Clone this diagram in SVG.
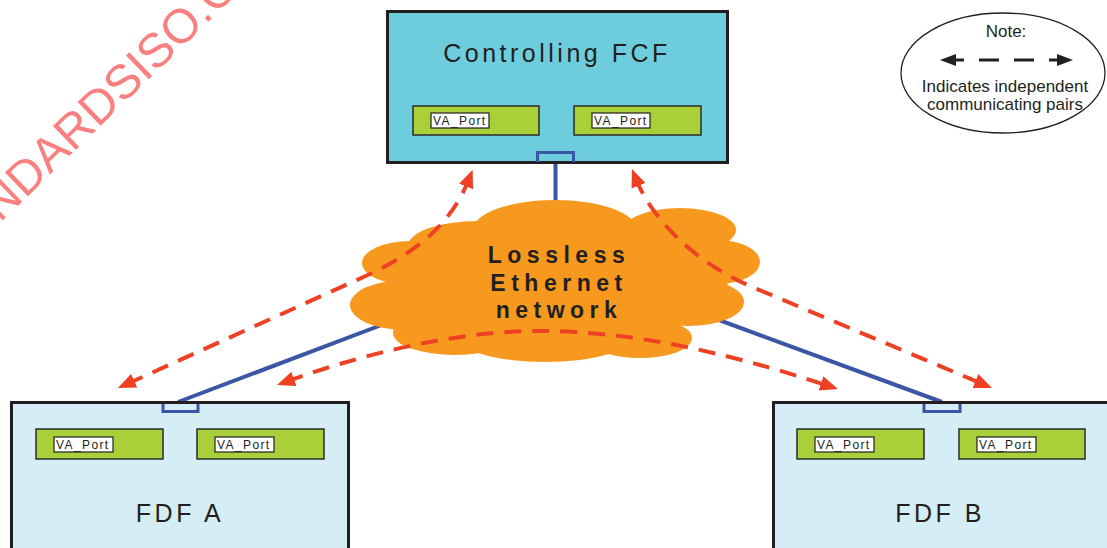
<svg xmlns="http://www.w3.org/2000/svg" width="1107" height="548" viewBox="0 0 1107 548">
<style>
.box{stroke:#231f20;stroke-width:3}
.fcf{fill:#6ecddd}
.fdf{fill:#d5eef5}
.green{fill:#a9cf39;stroke:#2b2b2b;stroke-width:1.5}
.lbl{fill:#ffffff;stroke:#231f20;stroke-width:1.2}
.lt{font-family:"Liberation Sans",Arial,sans-serif;font-size:12px;letter-spacing:1.4px;fill:#231f20}
.title{font-family:"Liberation Sans",Arial,sans-serif;font-size:25px;letter-spacing:3.5px;fill:#231f20;text-anchor:middle}
.port{fill:none;stroke:#3a56a4;stroke-width:3}
.link{fill:none;stroke:#3a56a4;stroke-width:4}
.cloud{fill:#f7991e}
.ctext{font-family:"Liberation Sans",Arial,sans-serif;font-weight:bold;font-size:23px;letter-spacing:5.5px;fill:#231f20;text-anchor:middle}
.dash{fill:none;stroke:#ee4124;stroke-width:4;stroke-dasharray:17 11;marker-start:url(#ah);marker-end:url(#ah)}
.note{font-family:"Liberation Sans",Arial,sans-serif;font-size:17px;fill:#231f20;text-anchor:middle}
</style>
<defs>
<marker id="ah" markerUnits="userSpaceOnUse" markerWidth="20" markerHeight="16" refX="8" refY="7.5" orient="auto-start-reverse">
<path d="M0,0 L18,7.5 L0,15 z" fill="#ee4124"/>
</marker>
</defs>

<text x="0" y="0" transform="translate(0,223) rotate(-44)" font-family="Liberation Sans,Arial,sans-serif" font-size="48" fill="#fa8080">NDARDSISO.C</text>

<g id="connectors-solid">
<line class="link" x1="555.5" y1="164" x2="555.5" y2="215"/>
<line class="link" x1="178" y1="402" x2="400" y2="318"/>
<line class="link" x1="942" y1="402" x2="700" y2="313"/>
</g>

<g id="cloud">
<ellipse class="cloud" cx="560" cy="275" rx="170" ry="55"/>
<ellipse class="cloud" cx="555" cy="230" rx="82" ry="30"/>
<ellipse class="cloud" cx="478" cy="246" rx="70" ry="25"/>
<ellipse class="cloud" cx="410" cy="263" rx="48" ry="22"/>
<ellipse class="cloud" cx="405" cy="305" rx="55" ry="25"/>
<ellipse class="cloud" cx="455" cy="333" rx="62" ry="22"/>
<ellipse class="cloud" cx="545" cy="338" rx="85" ry="24"/>
<ellipse class="cloud" cx="640" cy="338" rx="52" ry="20"/>
<ellipse class="cloud" cx="688" cy="302" rx="56" ry="24"/>
<ellipse class="cloud" cx="718" cy="262" rx="42" ry="22"/>
<ellipse class="cloud" cx="680" cy="230" rx="56" ry="22"/>
<text class="ctext" x="559" y="263">Lossless</text>
<text class="ctext" x="559" y="291">Ethernet</text>
<text class="ctext" x="559" y="318">network</text>
</g>

<g id="fcf">
<rect class="box fcf" x="387.5" y="11.5" width="340" height="151"/>
<text class="title" x="557" y="62">Controlling FCF</text>
<rect class="green" x="413" y="106" width="126" height="29"/>
<rect class="lbl" x="431" y="113" width="58" height="15"/>
<text class="lt" x="433" y="124.5">VA_Port</text>
<rect class="green" x="574" y="106" width="127" height="29"/>
<rect class="lbl" x="592" y="113" width="58" height="15"/>
<text class="lt" x="594" y="124.5">VA_Port</text>
<path class="port" d="M537.5,162 V152.5 H573.5 V162"/>
</g>

<g id="fdf-a">
<rect class="box fdf" x="11.5" y="402.5" width="337" height="160"/>
<rect class="green" x="36" y="429" width="127" height="30"/>
<rect class="lbl" x="54" y="437" width="59" height="15"/>
<text class="lt" x="56" y="448.5">VA_Port</text>
<rect class="green" x="197" y="429" width="127" height="30"/>
<rect class="lbl" x="215" y="437" width="59" height="15"/>
<text class="lt" x="217" y="448.5">VA_Port</text>
<text class="title" x="180" y="522">FDF A</text>
<path class="port" d="M163,404 V411.5 H198 V404"/>
</g>

<g id="fdf-b">
<rect class="box fdf" x="773.5" y="402.5" width="350" height="160"/>
<rect class="green" x="797" y="429" width="127" height="30"/>
<rect class="lbl" x="815" y="437" width="59" height="15"/>
<text class="lt" x="817" y="448.5">VA_Port</text>
<rect class="green" x="959" y="429" width="126" height="30"/>
<rect class="lbl" x="977" y="437" width="59" height="15"/>
<text class="lt" x="979" y="448.5">VA_Port</text>
<text class="title" x="940" y="522">FDF B</text>
<path class="port" d="M924,404 V411.5 H960 V404"/>
</g>

<g id="connectors-dashed">
<path class="dash" d="M127,384 L370,274 C420,250 452,222 469,179"/>
<path class="dash" d="M635.6,178.3 C650,215 690,260 750,286 L982.8,384.1"/>
<path class="dash" d="M286.4,381.6 C380,348 470,330 545,331 C630,332 720,350 828.5,385.9"/>
</g>

<g id="note">
<ellipse cx="1003" cy="73" rx="102" ry="60" fill="#ffffff" stroke="#231f20" stroke-width="1.3"/>
<text class="note" x="1006" y="37">Note:</text>
<g stroke="#231f20" stroke-width="3">
<line x1="952" y1="60" x2="964" y2="60"/>
<line x1="979" y1="60" x2="999" y2="60"/>
<line x1="1014" y1="60" x2="1034" y2="60"/>
<line x1="1049" y1="60" x2="1061" y2="60"/>
</g>
<polygon points="940,60 956,54 956,66" fill="#231f20"/>
<polygon points="1073,60 1057,54 1057,66" fill="#231f20"/>
<text class="note" x="1005" y="92">Indicates independent</text>
<text class="note" x="1005" y="110">communicating pairs</text>
</g>
</svg>
